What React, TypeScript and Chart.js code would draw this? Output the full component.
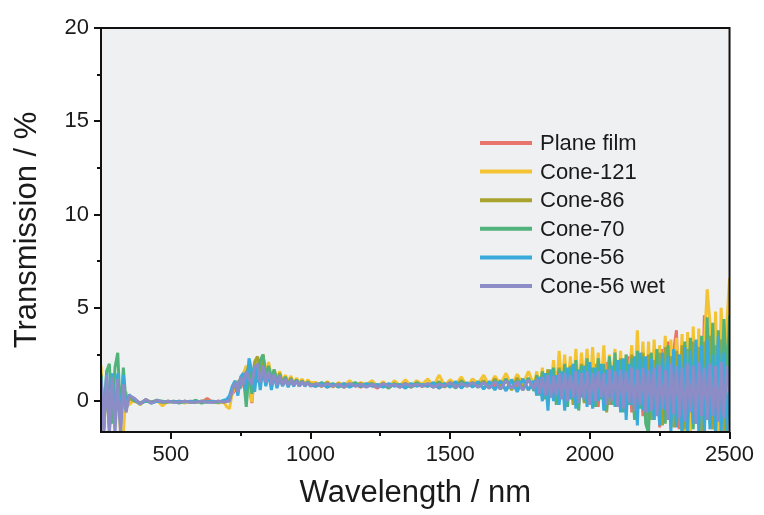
import React, { useEffect, useRef } from "react";
import { Chart, registerables } from "chart.js";

Chart.register(...registerables);

// Wavelength sampling (nm)
const wavelengths = [
  250, 260, 270, 280, 290, 300, 310, 320, 330, 340, 350,
  370, 390, 410, 430, 450, 470, 490, 510, 530, 550, 570, 590, 610, 630, 650, 670, 690,
  700, 710, 720, 730, 740, 750, 760, 770, 780, 790, 800, 810, 820, 830, 840, 850,
  860, 870, 880, 890, 900, 910, 920, 930, 940, 950, 960, 970, 980, 990, 1000,
  1020, 1040, 1060, 1080, 1100, 1120, 1140, 1160, 1180, 1200,
  1220, 1240, 1260, 1280, 1300, 1320, 1340, 1360, 1380, 1400,
  1420, 1440, 1460, 1480, 1500, 1520, 1540, 1560, 1580, 1600,
  1620, 1640, 1660, 1680, 1700, 1720, 1740, 1760, 1780, 1800,
  1810, 1820, 1830, 1840, 1850, 1860, 1870, 1880, 1890, 1900,
  1910, 1920, 1930, 1940, 1950, 1960, 1970, 1980, 1990, 2000,
  2010, 2020, 2030, 2040, 2050, 2060, 2070, 2080, 2090, 2100,
  2110, 2120, 2130, 2140, 2150, 2160, 2170, 2180, 2190, 2200,
  2210, 2220, 2230, 2240, 2250, 2260, 2270, 2280, 2290, 2300,
  2310, 2320, 2330, 2340, 2350, 2360, 2370, 2380, 2390, 2400,
  2410, 2420, 2430, 2440, 2450, 2460, 2470, 2480, 2490, 2500,
];

const planeFilm = [
  1.2, -1.0, 0.9, -1.2, 1.0, -0.8, 0.7, -1.0, 0.6, -0.3, 0.2,
  0.1, -0.1, 0.05, -0.05, 0.0, -0.05, 0.0, -0.05, 0.0, -0.05, -0.03, 0.0, -0.05, 0.15, -0.05, 0.0, -0.05,
  0.0, 0.1, 0.4, 0.6, 0.9, 0.7, 1.2, 1.4, 0.8, -0.1, 1.5, 1.8, 1.0, 1.6, 0.9, 1.6,
  1.1, 1.4, 1.0, 1.3, 0.9, 1.25, 0.95, 1.2, 0.9, 1.15, 0.95, 1.1, 0.85, 1.05, 0.9,
  0.8, 0.95, 0.75, 0.9, 0.8, 0.95, 0.8, 0.9, 0.75, 0.9,
  0.85, 0.7, 0.95, 0.8, 0.9, 0.75, 0.95, 0.8, 0.9, 0.85,
  0.8, 0.95, 0.7, 0.9, 0.85, 1.0, 0.75, 0.95, 0.8, 1.0,
  0.7, 1.05, 0.8, 1.1, 0.6, 1.15, 0.75, 1.2, 0.6, 1.1,
  0.5, 1.3, 0.7, 1.5, 0.4, 1.2, 0.6, 1.6, 0.3, 1.4,
  0.2, 1.6, 0.5, 1.8, -0.1, 1.5, 0.3, 1.9, 0.1, 1.7,
  0.4, 2.0, -0.3, 1.8, 0.2, 2.1, -0.2, 1.7, 0.5, 2.2,
  -0.4, 1.9, 0.0, 2.4, -0.6, 2.1, 0.3, 2.5, -0.8, 2.2,
  -1.2, 2.6, -0.5, 2.3, -1.4, 2.8, 0.0, 3.2, -0.9, 2.7,
  3.8, -1.5, 2.9, -0.7, 3.1, -1.6, 2.6, -0.4, 3.4, -1.2,
  4.6, -1.0, 3.5, -1.5, 3.0, -0.6, 3.2, -1.3, 2.5, 0.5,
];

const cone121 = [
  1.9, -1.7, 1.3, -1.5, 1.2, -1.4, 0.9, -1.7, -1.7, 0.5, -0.2,
  0.1, -0.2, 0.1, -0.1, 0.05, -0.25, 0.0, -0.05, 0.0, -0.1, 0.0, -0.05, 0.0, -0.05, 0.0, -0.1, -0.05,
  -0.3, -0.4, 0.5, 0.7, 1.1, 0.9, 1.5, 1.9, 1.2, -0.05, 1.8, 2.3, 1.4, 2.4, 1.5, 2.1,
  1.3, 1.7, 1.2, 1.6, 1.0, 1.4, 1.05, 1.35, 0.9, 1.25, 0.95, 1.2, 0.9, 1.15, 1.0,
  1.0, 0.8, 1.05, 0.75, 1.0, 0.85, 1.1, 0.8, 1.0, 0.9,
  1.1, 0.8, 1.05, 0.75, 1.1, 0.85, 1.15, 0.8, 1.1, 0.9,
  1.2, 0.8, 1.4, 0.85, 1.15, 0.9, 1.3, 0.8, 1.2, 0.95,
  1.4, 0.8, 1.35, 0.9, 1.5, 0.8, 1.45, 0.9, 1.6, 0.85,
  1.6, 0.5, 1.8, 0.3, 1.7, 0.6, 2.2, 0.4, 2.7, 0.8,
  2.5, 0.2, 2.4, 0.6, 2.8, 0.3, 2.6, 0.9, 2.8, 0.4,
  2.9, 0.1, 2.6, 0.7, 3.0, 0.2, 2.5, 0.8, 2.8, 0.0,
  2.7, 0.4, 2.5, 1.0, 3.0, 0.3, 3.8, 0.5, 3.2, -0.3,
  3.2, -0.5, 3.3, 0.6, 3.0, 1.0, 3.5, -0.2, 3.3, 0.4,
  3.4, 0.0, 3.6, -1.7, 3.7, -1.7, 4.0, -1.0, 3.9, -1.7,
  3.0, 6.0, 4.2, -0.5, 4.8, -1.7, 5.0, 1.0, 4.0, 6.6,
];

const cone86 = [
  1.5, -1.3, 1.1, -1.6, 0.9, -1.1, 0.8, -1.3, 0.5, -0.4, 0.15,
  0.0, -0.1, 0.05, -0.05, 0.0, -0.05, -0.05, 0.0, -0.05, 0.0, -0.05, -0.05, 0.0, 0.0, -0.05, 0.0, -0.05,
  0.0, 0.1, 0.6, 0.8, 1.0, 1.2, 0.9, 1.5, 1.9, 0.8, 2.1, 2.4, 1.2, 2.5, 1.4, 1.8,
  1.1, 1.6, 1.05, 1.5, 0.95, 1.3, 0.9, 1.25, 0.9, 1.15, 0.9, 1.1, 0.85, 1.05, 0.9,
  0.9, 0.8, 1.0, 0.8, 0.95, 0.75, 0.9, 0.85, 0.95, 0.8,
  0.9, 0.8, 0.95, 0.75, 0.9, 0.85, 0.95, 0.75, 0.9, 0.8,
  0.95, 0.8, 1.05, 0.75, 1.0, 0.85, 1.1, 0.8, 1.0, 0.85,
  1.1, 0.7, 1.2, 0.75, 1.15, 0.6, 1.25, 0.7, 1.2, 0.6,
  1.3, 0.4, 1.5, 0.2, 1.7, 0.3, 1.4, 0.0, 1.8, 0.4,
  1.6, 0.1, 1.9, -0.2, 1.7, 0.3, 2.0, -0.1, 1.8, 0.2,
  1.6, -0.1, 2.0, 0.3, 1.7, -0.6, 2.2, 0.0, 1.9, -0.3,
  2.3, -0.5, 2.0, 0.1, 2.5, -0.8, 2.2, -0.2, 2.6, -1.0,
  2.5, -1.0, 2.2, -0.4, 2.6, -1.3, 2.9, -0.6, 2.4, -1.4,
  2.7, -0.8, 3.0, -1.5, 2.8, -0.3, 3.2, -1.2, 2.9, -1.6,
  3.2, -0.8, 3.5, -1.5, 3.0, -1.0, 3.3, -1.6, 2.2, 1.0,
];

const cone70 = [
  1.4, -1.5, 1.6, 2.0, -1.2, 1.8, 2.6, -0.9, 1.8, -0.2, 0.3,
  0.05, -0.1, 0.0, -0.05, 0.05, 0.0, -0.05, 0.0, -0.1, 0.0, -0.05, 0.05, -0.1, 0.0, -0.05, -0.05, 0.0,
  0.0, 0.1, 0.7, 0.9, 0.5, 1.0, 1.3, -0.3, 1.6, 0.4, 1.9, 1.0, 2.2, 2.5, 1.3, 1.9,
  1.2, 1.7, 1.05, 1.4, 0.9, 1.3, 0.85, 1.2, 0.9, 1.15, 0.85, 1.05, 0.9, 1.0, 0.85,
  0.85, 1.0, 0.8, 0.95, 0.75, 0.9, 0.85, 1.0, 0.8, 0.9,
  0.95, 0.8, 0.9, 0.7, 0.95, 0.8, 0.9, 0.75, 1.0, 0.8,
  0.9, 0.75, 1.0, 0.8, 0.95, 0.7, 1.05, 0.85, 0.95, 0.75,
  1.0, 0.7, 1.1, 0.65, 1.2, 0.7, 1.1, 0.6, 1.25, 0.55,
  1.4, 0.3, 1.6, 0.1, 1.5, 0.2, 1.8, -0.2, 1.7, 0.2,
  2.0, -0.3, 1.8, 0.1, 2.2, -0.5, 1.9, 0.0, 2.3, -0.2,
  1.8, -0.3, 2.3, 0.1, 2.0, -0.5, 2.4, -0.2, 2.6, 0.0,
  2.2, -0.6, 2.5, -0.2, 2.3, -1.0, 2.7, -0.4, 2.4, -1.2,
  -1.7, 2.6, -1.0, 2.8, -0.4, 2.5, -1.2, 3.0, -0.8, 2.7,
  -1.3, 2.5, -1.7, 3.2, -0.8, 3.4, -1.5, 3.0, -1.0, 3.5,
  -1.0, 4.5, -1.2, 4.2, -1.7, 3.8, -0.5, 4.4, 1.0, 4.6,
];

const cone56 = [
  1.3, -1.4, 1.5, -1.2, 1.5, -1.0, 1.5, -1.3, 1.4, -0.5, 0.35,
  0.1, -0.15, 0.05, -0.1, 0.0, -0.05, 0.0, -0.05, 0.0, -0.05, 0.0, -0.05, 0.0, -0.05, 0.0, -0.05, 0.05,
  0.1, 0.3, 0.8, 1.1, 0.3, 1.3, 1.5, 0.6, 2.3, 1.6, 0.5, 1.9, 0.6, 1.8, 0.8, 1.5,
  0.6, 1.4, 0.7, 1.2, 0.8, 1.15, 0.75, 1.1, 0.8, 1.1, 0.8, 1.05, 0.8, 1.0, 0.85,
  0.8, 0.95, 0.75, 0.9, 0.8, 0.95, 0.75, 0.9, 0.8, 0.95,
  0.8, 0.9, 0.75, 0.95, 0.8, 0.9, 0.7, 0.95, 0.8, 0.9,
  0.8, 1.0, 0.7, 0.95, 0.75, 1.05, 0.7, 1.0, 0.75, 1.05,
  0.65, 1.05, 0.6, 1.1, 0.55, 1.15, 0.5, 1.2, 0.6, 1.1,
  0.3, 1.3, 0.0, 1.5, -0.5, 1.7, 0.0, 1.4, -0.2, 1.6,
  -0.5, 1.8, 0.1, 2.0, -0.4, 1.7, 0.2, 1.9, -0.3, 2.1,
  -0.4, 1.8, 0.0, 2.0, -0.5, 1.7, 0.2, 1.9, -0.3, 2.2,
  -0.6, 2.3, -1.0, 2.0, -0.2, 2.4, -1.3, 2.6, -0.5, 2.4,
  -0.6, 2.3, -1.0, 2.0, -1.3, 2.6, -0.5, 2.4, -1.7, 2.8,
  -1.4, 2.5, -1.7, 2.9, -1.7, 2.7, -1.2, 3.3, -1.7, 3.0,
  -1.7, 3.3, -1.5, 2.5, -1.7, 3.5, -1.7, 2.6, -1.7, 1.5,
];

const cone56Wet = [
  1.2, -1.7, 1.4, -1.7, 1.3, -1.7, 1.2, -1.7, 0.9, -0.6, 0.3,
  0.15, -0.15, 0.1, -0.1, 0.05, -0.05, 0.0, -0.05, -0.05, 0.0, -0.05, -0.05, 0.0, -0.05, -0.05, 0.0, -0.05,
  0.0, 0.0, 0.6, 1.0, 0.5, 1.3, 0.9, 1.6, 1.2, 0.9, 1.8, 2.0, 1.0, 1.9, 1.0, 1.6,
  0.9, 1.45, 0.85, 1.35, 0.85, 1.2, 0.85, 1.15, 0.85, 1.1, 0.8, 1.05, 0.85, 1.0, 0.8,
  0.95, 0.8, 0.95, 0.8, 0.9, 0.75, 0.95, 0.8, 0.9, 0.75,
  0.9, 0.75, 0.95, 0.8, 0.9, 0.75, 0.95, 0.8, 0.9, 0.8,
  0.95, 0.75, 0.9, 0.8, 1.0, 0.75, 0.95, 0.8, 1.0, 0.75,
  1.0, 0.7, 1.05, 0.65, 1.1, 0.7, 1.05, 0.6, 1.15, 0.65,
  1.2, 0.4, 1.3, 0.3, 1.4, 0.2, 1.35, 0.3, 1.5, 0.1,
  1.5, 0.0, 1.4, 0.2, 1.6, -0.1, 1.5, 0.1, 1.6, -0.2,
  1.5, 0.0, 1.6, 0.2, 1.5, -0.2, 1.7, 0.0, 1.6, -0.3,
  1.7, -0.4, 1.6, -0.1, 1.8, -0.5, 1.7, -0.2, 1.8, -0.6,
  1.7, -0.5, 1.8, -0.8, 1.9, -0.4, 1.7, -1.0, 2.0, -0.7,
  1.9, -0.9, 1.8, -1.1, 2.0, -0.6, 1.9, -1.2, 2.1, -0.8,
  1.8, -1.0, 2.0, -0.8, 1.9, -1.1, 2.1, -0.9, 1.9, 0.5,
];

const seriesNames = ["Plane film", "Cone-121", "Cone-86", "Cone-70", "Cone-56", "Cone-56 wet"];
const seriesValues = [planeFilm, cone121, cone86, cone70, cone56, cone56Wet];
const seriesColors = ["#e8756b", "#f3c332", "#a8a22e", "#52b27c", "#3aaadb", "#8c8cc6"];

const xMajorTicks = [500, 1000, 1500, 2000, 2500];
const xMinorTicks = [750, 1250, 1750, 2250];
const yMajorTicks = [0, 5, 10, 15, 20];
const yMinorTicks = [2.5, 7.5, 12.5, 17.5];

const FONT = "'Liberation Sans', Arial, Helvetica, sans-serif";
const TEXT = "#1a1a1a";

const framePlugin = {
  id: "framePlugin",
  beforeDraw(chart: any) {
    const { ctx, chartArea: a } = chart;
    ctx.save();
    ctx.fillStyle = "#eff0f2";
    ctx.fillRect(a.left, a.top, a.right - a.left, a.bottom - a.top);
    ctx.restore();
  },
  afterDraw(chart: any) {
    const { ctx, chartArea: a, scales } = chart;
    ctx.save();
    ctx.strokeStyle = "#111";
    ctx.lineWidth = 2;
    ctx.strokeRect(a.left, a.top, a.right - a.left, a.bottom - a.top);
    const drawX = (v: number, len: number) => {
      const px = Math.round(scales.x.getPixelForValue(v));
      ctx.beginPath();
      ctx.moveTo(px, a.bottom);
      ctx.lineTo(px, a.bottom + len);
      ctx.stroke();
    };
    const drawY = (v: number, len: number) => {
      const py = Math.round(scales.y.getPixelForValue(v));
      ctx.beginPath();
      ctx.moveTo(a.left, py);
      ctx.lineTo(a.left - len, py);
      ctx.stroke();
    };
    xMajorTicks.forEach((v) => drawX(v, 7));
    xMinorTicks.forEach((v) => drawX(v, 4));
    yMajorTicks.forEach((v) => drawY(v, 7));
    yMinorTicks.forEach((v) => drawY(v, 4));

    // legend inside plot
    const lx = 480;
    const ly = 143;
    const step = 28.6;
    ctx.font = `22px ${FONT}`;
    ctx.textBaseline = "middle";
    ctx.textAlign = "left";
    chart.data.datasets.forEach((ds: any, i: number) => {
      const y = ly + i * step;
      ctx.strokeStyle = ds.borderColor;
      ctx.lineWidth = 4;
      ctx.beginPath();
      ctx.moveTo(lx, y);
      ctx.lineTo(lx + 52, y);
      ctx.stroke();
      ctx.fillStyle = TEXT;
      ctx.fillText(ds.label, lx + 60, y + 1);
    });
    ctx.restore();
  },
};

export default function App() {
  const ref = useRef<HTMLCanvasElement | null>(null);

  useEffect(() => {
    if (!ref.current) return;
    const datasets = seriesNames.map((name, i) => ({
      label: name,
      data: wavelengths.map((w, j) => ({ x: w, y: seriesValues[i][j] })),
      borderColor: seriesColors[i],
      backgroundColor: seriesColors[i],
      borderWidth: 3,
      borderJoinStyle: "bevel" as const,
      pointRadius: 0,
      tension: 0,
      order: seriesNames.length - i,
    }));
    const chart = new Chart(ref.current, {
      type: "line",
      data: { datasets },
      plugins: [framePlugin],
      options: {
        animation: false,
        responsive: false,
        devicePixelRatio: 1,
        layout: { padding: { top: 28, right: 29, left: 0, bottom: 0 } },
        plugins: { legend: { display: false }, tooltip: { enabled: false } },
        scales: {
          x: {
            type: "linear",
            min: 250,
            max: 2500,
            grid: { display: false, drawTicks: false },
            border: { display: false },
            afterFit: (s: any) => {
              s.height = 83;
            },
            afterBuildTicks: (s: any) => {
              s.ticks = xMajorTicks.map((v) => ({ value: v }));
            },
            ticks: {
              padding: 10,
              color: TEXT,
              font: { family: FONT, size: 22 },
              maxRotation: 0,
              autoSkip: false,
              callback: (v: any) => String(v),
            },
            title: {
              display: true,
              text: "Wavelength / nm",
              color: TEXT,
              font: { family: FONT, size: 31 },
              padding: { top: 0, bottom: 3 },
            },
          },
          y: {
            type: "linear",
            min: -1.65,
            max: 20,
            grid: { display: false, drawTicks: false },
            border: { display: false },
            afterFit: (s: any) => {
              s.width = 101;
            },
            afterBuildTicks: (s: any) => {
              s.ticks = yMajorTicks.map((v) => ({ value: v }));
            },
            ticks: {
              padding: 12,
              color: TEXT,
              font: { family: FONT, size: 22 },
              autoSkip: false,
              callback: (v: any) => String(v),
            },
            title: {
              display: true,
              text: "Transmission / %",
              color: TEXT,
              font: { family: FONT, size: 31 },
              padding: { top: 9, bottom: 0 },
            },
          },
        },
      },
    });
    return () => chart.destroy();
  }, []);

  return (
    <div style={{ position: "fixed", left: 0, top: 0, width: 764, height: 515, background: "#fff" }}>
      <canvas ref={ref} width={764} height={515} />
    </div>
  );
}
